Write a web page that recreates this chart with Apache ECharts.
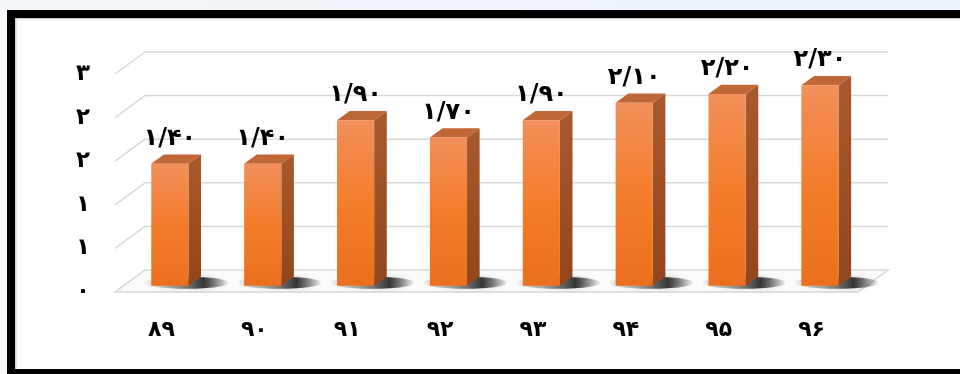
<!DOCTYPE html>
<html>
<head>
<meta charset="utf-8">
<script src="https://cdn.jsdelivr.net/npm/echarts@6/dist/echarts.min.js"></script>
<style>
  html, body { margin: 0; padding: 0; background: #ffffff; overflow: hidden; }
  #chart { width: 960px; height: 374px; }
</style>
</head>
<body>
<div id="chart"></div>
<script>
// Years (Persian calendar) and the plotted values
const categories = ['۸۹', '۹۰', '۹۱', '۹۲', '۹۳', '۹۴', '۹۵', '۹۶'];
const values = [1.40, 1.40, 1.90, 1.70, 1.90, 2.10, 2.20, 2.30];
const yTicks = [0, 0.5, 1, 1.5, 2, 2.5];
const yTickLabels = ['۰', '۱', '۱', '۲', '۲', '۳'];

const FONT = '"DejaVu Sans", "Noto Sans", sans-serif';
// depth vector of the pseudo-3D floor (front edge -> back wall)
const DEPTH = [30, -22];
const BAR_FRONT = 0.28, BAR_BACK = 0.70;

function toPersian(str) {
  return str.replace(/\d/g, d => '۰۱۲۳۴۵۶۷۸۹'[+d]);
}
function valueLabel(v) {
  return toPersian(v.toFixed(2)).replace('.', '/');
}

const chart = echarts.init(document.getElementById('chart'), null, { renderer: 'canvas' });

// floor, back-wall grid lines and the left diagonals
function renderWalls(params, api) {
  const cs = params.coordSys;
  const x0 = cs.x, x1 = cs.x + cs.width;
  const [dx, dy] = DEPTH;
  const children = [];
  const y0 = api.coord([0, 0])[1];
  children.push({
    type: 'polygon',
    shape: { points: [[x0, y0], [x0 + dx, y0 + dy], [x1 + dx, y0 + dy], [x1, y0]] },
    style: { fill: '#fbfbfb', stroke: '#d9d9d9', lineWidth: 1.5 }
  });
  yTicks.forEach(v => {
    const y = api.coord([0, v])[1];
    if (v !== 0) {
      children.push({
        type: 'line',
        shape: { x1: x0 + dx, y1: y + dy, x2: x1 + dx, y2: y + dy },
        style: { stroke: '#d9d9d9', lineWidth: 1.5 }
      });
    }
    children.push({
      type: 'line',
      shape: { x1: x0, y1: y, x2: x0 + dx, y2: y + dy },
      style: { stroke: '#d9d9d9', lineWidth: 1.5 }
    });
  });
  return { type: 'group', children };
}

// one pseudo-3D column per category
function renderBar(params, api) {
  const idx = api.value(0);
  const v = api.value(1);
  const base = api.coord([idx, 0]);
  const top = api.coord([idx, v]);
  const band = api.size([1, 0])[0];
  const w = band * 0.4;
  const [dx, dy] = DEPTH;
  const fx = base[0] - w / 2 + dx * BAR_FRONT;
  const yb = base[1] + dy * BAR_FRONT;
  const yt = top[1] + dy * BAR_FRONT;
  const sdx = dx * (BAR_BACK - BAR_FRONT);
  const sdy = dy * (BAR_BACK - BAR_FRONT);

  const shadowFill = new echarts.graphic.LinearGradient(0, 0, 1, 0, [
    { offset: 0, color: 'rgba(0,0,0,0)' },
    { offset: 0.3, color: 'rgba(70,70,70,0.4)' },
    { offset: 0.7, color: 'rgba(25,25,25,0.85)' },
    { offset: 1, color: 'rgba(0,0,0,0)' }
  ]);

  return {
    type: 'group',
    children: [
      {
        type: 'ellipse',
        shape: { cx: fx + w * 0.95, cy: yb - 3, rx: w * 1.15, ry: 6 },
        style: { fill: shadowFill, shadowBlur: 6, shadowColor: 'rgba(0,0,0,0.2)' }
      },
      {
        type: 'polygon',
        shape: { points: [[fx + w, yt], [fx + w + sdx, yt + sdy], [fx + w + sdx, yb + sdy], [fx + w, yb]] },
        style: {
          fill: new echarts.graphic.LinearGradient(0, 0, 0, 1, [
            { offset: 0, color: '#a65a2e' },
            { offset: 1, color: '#93461a' }
          ])
        }
      },
      {
        type: 'polygon',
        shape: { points: [[fx, yt], [fx + sdx, yt + sdy], [fx + w + sdx, yt + sdy], [fx + w, yt]] },
        style: { fill: '#c06738' }
      },
      {
        type: 'rect',
        shape: { x: fx, y: yt, width: w, height: yb - yt },
        style: {
          fill: new echarts.graphic.LinearGradient(0, 0, 0, 1, [
            { offset: 0, color: '#f28f59' },
            { offset: 0.5, color: '#f37d2c' },
            { offset: 1, color: '#ea6f1e' }
          ])
        }
      },
      {
        type: 'text',
        style: {
          text: valueLabel(v),
          x: fx + w / 2,
          y: yt + sdy - 4,
          align: 'center',
          verticalAlign: 'bottom',
          font: 'bold 24px ' + FONT,
          fill: '#000000'
        }
      }
    ]
  };
}

const option = {
  backgroundColor: '#ffffff',
  animation: false,
  graphic: [
    { type: 'rect', shape: { x: 0, y: 0, width: 960, height: 10 },
      style: { fill: new echarts.graphic.LinearGradient(0, 0, 1, 0, [
        { offset: 0, color: '#f4f8fc' }, { offset: 1, color: '#ecf3fb' }]) }, z: 100 },
    { type: 'rect', shape: { x: 0, y: 10, width: 7, height: 364 }, style: { fill: '#f7f9fb' }, z: 100 },
    { type: 'rect', shape: { x: 7, y: 10, width: 953, height: 8 }, style: { fill: '#000000' }, z: 100 },
    { type: 'rect', shape: { x: 7, y: 10, width: 8, height: 364 }, style: { fill: '#000000' }, z: 100 },
    { type: 'rect', shape: { x: 7, y: 369, width: 953, height: 5 }, style: { fill: '#000000' }, z: 100 },
    { type: 'rect', shape: { x: 15, y: 18, width: 945, height: 1.5 }, style: { fill: '#d4d4d4' }, z: 100 },
    { type: 'rect', shape: { x: 15, y: 18, width: 1.5, height: 351 }, style: { fill: '#d4d4d4' }, z: 100 }
  ],
  grid: { left: 115, right: 102, top: 74, bottom: 82, containLabel: false },
  xAxis: {
    type: 'category',
    data: categories,
    axisLine: { show: false },
    axisTick: { show: false },
    axisLabel: {
      margin: 27,
      fontFamily: FONT,
      fontWeight: 'bold',
      fontSize: 22,
      color: '#000000'
    }
  },
  yAxis: {
    type: 'value',
    min: 0,
    max: 2.5,
    interval: 0.5,
    splitLine: { show: false },
    axisLine: { show: false },
    axisTick: { show: false },
    axisLabel: {
      margin: 25,
      fontFamily: FONT,
      fontWeight: 'bold',
      fontSize: 23,
      color: '#000000',
      formatter: v => yTickLabels[Math.round(v / 0.5)]
    }
  },
  series: [
    {
      type: 'custom',
      z: 1,
      silent: true,
      renderItem: renderWalls,
      data: [[0, 0]],
      encode: { x: 0, y: 1 }
    },
    {
      type: 'custom',
      z: 2,
      renderItem: renderBar,
      data: values.map((v, i) => [i, v]),
      encode: { x: 0, y: 1 }
    }
  ]
};

chart.setOption(option);
</script>
</body>
</html>
